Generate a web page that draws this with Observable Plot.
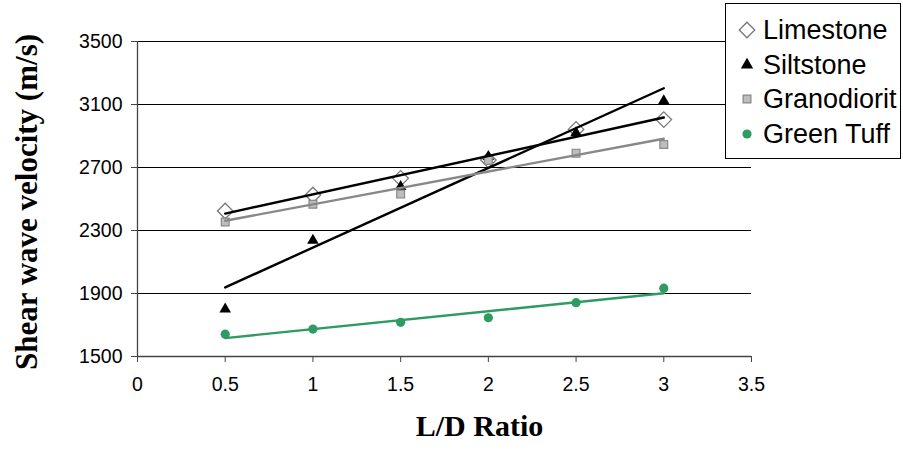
<!DOCTYPE html>
<html>
<head>
<meta charset="utf-8">
<script src="https://cdn.jsdelivr.net/npm/d3@7"></script>
<script src="https://cdn.jsdelivr.net/npm/@observablehq/plot@0.6"></script>
<style>
  html, body { margin: 0; padding: 0; background: #fff; }
  #wrap { position: relative; width: 903px; height: 454px; }
  #legend { position: absolute; left: 725px; top: 3px; width: 176px; height: 156px;
            border: 1px solid #000; background: #fff; box-sizing: border-box;
            font-family: "Liberation Sans", Arial, sans-serif; font-size: 27px; color: #000; }
  .row { position: absolute; left: 0; height: 34px; display: flex; align-items: center; }
  .row svg { width: 36px; height: 34px; }
  .row span { margin-left: 1px; line-height: 34px; white-space: nowrap; }
</style>
</head>
<body>
<div id="wrap"></div>
<script>
const ratios = [0.5, 1, 1.5, 2, 2.5, 3];
const seriesNames = ["Limestone", "Siltstone", "Granodiorit", "Green Tuff"];
const limestone   = [2424, 2525, 2631, 2748, 2942, 3004];
const siltstone   = [1800, 2237, 2578, 2769, 2919, 3123];
const granodiorit = [2354, 2467, 2531, 2745, 2791, 2846];
const greenTuff   = [1642, 1674, 1717, 1746, 1842, 1934];
const xTicks = [0, 0.5, 1, 1.5, 2, 2.5, 3, 3.5];
const yTicks = [1500, 1900, 2300, 2700, 3100, 3500];

const values = [limestone, siltstone, granodiorit, greenTuff];
const rows = seriesNames.map((s, i) => ratios.map((r, j) => ({series: s, ratio: r, v: values[i][j]})));
const [limeRows, siltRows, granoRows, tuffRows] = rows;

const GREEN = "#2e9b63";
const style = {
  Limestone:  {symbol: "diamond2", r: 7.0, fill: "#fff", stroke: "#777", strokeWidth: 1.3, line: "#000"},
  Siltstone:  {symbol: "triangle", r: 4.3, fill: "#000", stroke: "none", strokeWidth: 0, line: "#000"},
  Granodiorit:{symbol: "square", r: 4.4, fill: "#bdbdbd", stroke: "#888", strokeWidth: 1.2, line: "#888"},
  "Green Tuff":{symbol: "circle", r: 4.6, fill: GREEN, stroke: "none", strokeWidth: 0, line: GREEN}
};

function dots(data, s) {
  const st = style[s];
  return Plot.dot(data, {x: "ratio", y: "v", symbol: () => st.symbol, r: st.r,
    fill: st.fill, stroke: st.stroke, strokeWidth: st.strokeWidth});
}
function trend(data, s) {
  return Plot.linearRegressionY(data, {x: "ratio", y: "v", ci: 0, stroke: style[s].line, strokeWidth: 2.4});
}

const FONT = "'Liberation Sans', Arial, sans-serif";
const SERIF = "'Liberation Serif', 'Times New Roman', serif";
const TICK_SIZE = "19.5px";

const chart = Plot.plot({
  width: 903,
  height: 454,
  marginLeft: 137,
  marginRight: 152,
  marginTop: 41,
  marginBottom: 98,
  style: {fontFamily: FONT, fontSize: TICK_SIZE, color: "#000", background: "#fff"},
  x: {domain: [0, 3.5]},
  y: {domain: [1500, 3500]},
  symbol: {domain: ["diamond2", "triangle", "square", "circle"], range: ["diamond2", "triangle", "square", "circle"]},
  marks: [
    Plot.gridY(yTicks.slice(1), {stroke: "#000", strokeOpacity: 1, strokeWidth: 1}),
    Plot.axisX(xTicks, {tickSize: 6, tickPadding: 15, tickFormat: d => String(d), stroke: "#444",
      fontSize: 19.5, fontFamily: FONT, fill: "#000", label: null}),
    Plot.axisY(yTicks, {tickSize: 6, tickPadding: 9, tickFormat: d => String(d), stroke: "#444",
      fontSize: 19.5, fontFamily: FONT, fill: "#000", label: null}),
    Plot.ruleX([0], {stroke: "#444", strokeWidth: 1.3}),
    Plot.ruleY([1500], {stroke: "#444", strokeWidth: 1.3}),
    dots(limeRows, "Limestone"),
    dots(siltRows, "Siltstone"),
    dots(granoRows, "Granodiorit"),
    dots(tuffRows, "Green Tuff"),
    trend(limeRows, "Limestone"),
    trend(siltRows, "Siltstone"),
    trend(granoRows, "Granodiorit"),
    trend(tuffRows, "Green Tuff"),
    Plot.text(["L/D Ratio"], {frameAnchor: "bottom", dx: 35, dy: 79, text: d => d,
      fontSize: 30, fontWeight: "bold", fontFamily: SERIF, fill: "#000"}),
    Plot.text(["Shear wave velocity (m/s)"], {frameAnchor: "left", textAnchor: "middle", dx: -110, dy: 3,
      rotate: -90, text: d => d, fontSize: 31, fontWeight: "bold", fontFamily: SERIF, fill: "#000"})
  ]
});

// enforce tick label size
const tickStrings = new Set([...xTicks, ...yTicks].map(String));
d3.select(chart).selectAll("text")
  .filter(function() { return tickStrings.has(this.textContent); })
  .style("font-size", TICK_SIZE).style("font-family", FONT).style("fill", "#000");

const wrap = document.getElementById("wrap");
wrap.appendChild(chart);

// Legend
const legend = document.createElement("div");
legend.id = "legend";
wrap.appendChild(legend);
const legendSym = {Limestone: {sym: d3.symbolDiamond2, r: 7.0}, Siltstone: {sym: d3.symbolTriangle, r: 4.6},
  Granodiorit: {sym: d3.symbolSquare, r: 4.4}, "Green Tuff": {sym: d3.symbolCircle, r: 4.6}};
seriesNames.forEach((s, i) => {
  const row = document.createElement("div");
  row.className = "row";
  row.style.top = (9 + i * 34.5) + "px";
  const svg = d3.create("svg");
  const st = style[s];
  svg.append("path")
    .attr("transform", "translate(21,17)")
    .attr("d", d3.symbol(legendSym[s].sym, Math.PI * legendSym[s].r ** 2)())
    .attr("fill", st.fill).attr("stroke", st.stroke === "none" ? null : st.stroke)
    .attr("stroke-width", st.strokeWidth);
  row.appendChild(svg.node());
  const span = document.createElement("span");
  span.textContent = s;
  row.appendChild(span);
  legend.appendChild(row);
});
</script>
</body>
</html>
